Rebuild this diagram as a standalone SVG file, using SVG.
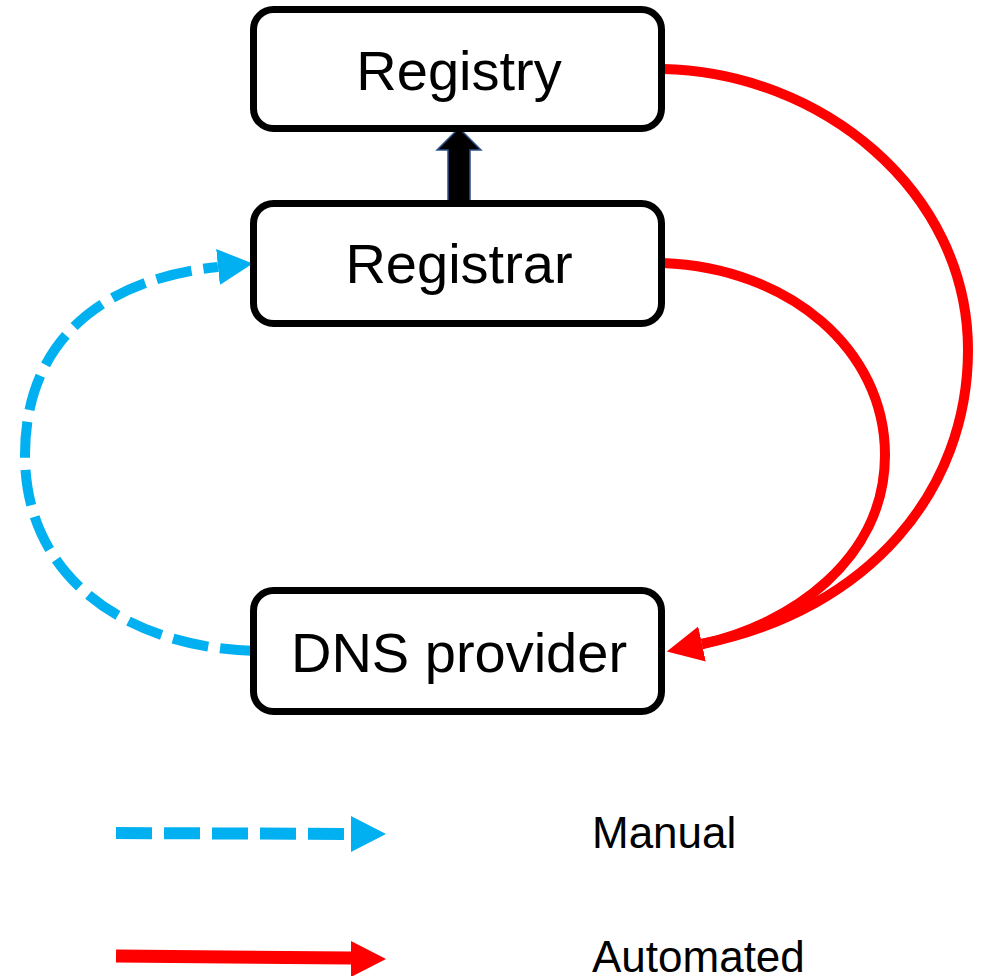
<svg xmlns="http://www.w3.org/2000/svg" width="982" height="976" viewBox="0 0 982 976">
<style>
.box{fill:#fff;stroke:#000;stroke-width:7}
.lbl{font-family:"Liberation Sans",Arial,sans-serif;font-size:56px;fill:#000;text-anchor:middle}
.leg{font-family:"Liberation Sans",Arial,sans-serif;font-size:44px;fill:#000}
.man{fill:none;stroke:#00B0F0;stroke-width:10;stroke-dasharray:36 12}
.auto{fill:none;stroke:#FF0000;stroke-width:10}
</style>
<defs>
<marker id="blueHead" markerUnits="userSpaceOnUse" markerWidth="40" markerHeight="40" refX="0" refY="18" orient="auto" viewBox="0 0 40 40">
<path d="M0,0 L35,18 L0,36 Z" fill="#00B0F0"/>
</marker>
<marker id="redHead" markerUnits="userSpaceOnUse" markerWidth="40" markerHeight="40" refX="0" refY="18" orient="auto" viewBox="0 0 40 40">
<path d="M0,0 L36,18 L0,36 Z" fill="#FF0000"/>
</marker>
</defs>
<g id="connectors">
<path class="man" d="M256,651 C130,648 25,580 25,455 C25,335 110,278 218,267" marker-end="url(#blueHead)"/>
<path class="auto" d="M663,69 C820,72 968,190 968,350 C968,490 870,610 702,644"/>
<path class="auto" d="M663,263 C790,268 885,350 885,455 C885,560 790,625 702,644" marker-end="url(#redHead)"/>
<polygon points="448,203 448,150 437,150 459,128 481,150 470,150 470,203" fill="#000" stroke="#2F528F" stroke-width="1.5"/>
</g>
<g id="registry">
<rect class="box" x="253.5" y="9.5" width="408" height="119" rx="20"/>
<text class="lbl" x="459" y="90">Registry</text>
</g>
<g id="registrar">
<rect class="box" x="253.5" y="203.5" width="408" height="120" rx="20"/>
<text class="lbl" x="459" y="283">Registrar</text>
</g>
<g id="dns-provider">
<rect class="box" x="253.5" y="590.5" width="408" height="121" rx="20"/>
<text class="lbl" x="459" y="672">DNS provider</text>
</g>
<g id="legend">
<path d="M116,833 L351,834" fill="none" stroke="#00B0F0" stroke-width="12" stroke-dasharray="36 12"/>
<path d="M351,816 L386,834 L351,852 Z" fill="#00B0F0"/>
<path d="M116,956 L351,958" fill="none" stroke="#FF0000" stroke-width="13"/>
<path d="M351,941 L386,959 L351,977 Z" fill="#FF0000"/>
<text class="leg" x="592" y="848">Manual</text>
<text class="leg" x="592" y="972">Automated</text>
</g>
</svg>
